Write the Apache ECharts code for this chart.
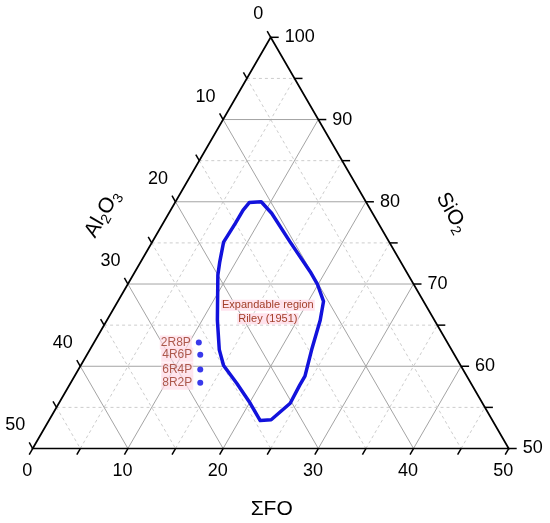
<!DOCTYPE html>
<html>
<head>
<meta charset="utf-8">
<script src="https://cdn.jsdelivr.net/npm/echarts@6/dist/echarts.min.js"></script>
<style>html,body{margin:0;padding:0;background:#fff}#c{width:550px;height:523px}</style>
</head>
<body>
<div id="c"></div>
<script>
// ---- ternary axes (wt%) ----
const foTicks = [0, 5, 10, 15, 20, 25, 30, 35, 40, 45, 50];          // ΣFO (bottom)
const siTicks = [50, 55, 60, 65, 70, 75, 80, 85, 90, 95, 100];       // SiO2 (right)
const alTicks = [0, 5, 10, 15, 20, 25, 30, 35, 40, 45, 50];          // Al2O3 (left)
const foTickLabels = [0, 10, 20, 30, 40, 50];
const siTickLabels = [50, 60, 70, 80, 90, 100];
const alTickLabels = [0, 10, 20, 30, 40, 50];
const gridFO = [5, 10, 15, 20, 25, 30, 35, 40, 45];
const gridSi = [55, 60, 65, 70, 75, 80, 85, 90, 95];
const gridAl = [5, 10, 15, 20, 25, 30, 35, 40, 45];

// ---- expandable region, Riley (1951): SiO2 and ΣFO (Al2O3 = 100 - SiO2 - ΣFO) ----
const regionSiO2 = [79.9, 80.0, 78.6, 75.1, 71.5, 70.0, 67.9, 65.6, 62.0, 58.8, 57.7, 55.5, 53.5, 53.4, 55.5, 57.9, 60.1, 62.0, 65.6, 71.1, 72.7, 75.1, 77.4, 79.0, 79.9];
const regionFO   = [7.8, 9.0, 10.8, 14.5, 18.4, 19.9, 21.6, 22.4, 23.3, 24.2, 24.2, 24.3, 23.3, 22.2, 20.1, 17.5, 15.0, 13.6, 11.6, 8.9, 8.3, 7.5, 7.6, 7.6, 7.8];
const regionLabel = ['Expandable region', 'Riley (1951)'];
const regionLabelSiO2 = 66.6;
const regionLabelFO = 16.4;

// ---- samples ----
const sampleNames = ['2R8P', '4R6P', '6R4P', '8R2P'];
const sampleSiO2 = [62.9, 61.4, 59.6, 58.0];
const sampleFO = [11.0, 11.9, 12.8, 13.6];

// ternary (ΣFO, SiO2) -> cartesian value space
function toXY(fo, si) { return [fo + (si - 50) / 2, si]; }

const FONT = '"Liberation Sans", Arial, Helvetica, sans-serif';
const S3 = Math.sqrt(3) / 2;

const chart = echarts.init(document.getElementById('c'), null, { renderer: 'canvas' });

const gridData = [].concat(
  gridFO.map(v => [v, 0]),
  gridSi.map(v => [v, 1]),
  gridAl.map(v => [v, 2])
);
const tickData = [].concat(
  foTicks.map(v => [v, 0]),
  siTicks.map(v => [v, 1]),
  alTicks.map(v => [v, 2])
);

function pt(api, fo, si) { return api.coord(toXY(fo, si)); }

const option = {
  animation: false,
  backgroundColor: '#fff',
  grid: { left: 32.7, right: 41.3, top: 37.3, bottom: 74.5, outerBoundsMode: 'none', containLabel: false },
  xAxis: { type: 'value', min: 0, max: 50, show: false },
  yAxis: { type: 'value', min: 50, max: 100, show: false },
  series: [
    { // grid lines
      type: 'custom', z: 1, silent: true,
      data: gridData,
      renderItem: function (params, api) {
        const v = api.value(0), fam = api.value(1);
        let a, b;
        if (fam === 0) { a = pt(api, v, 50); b = pt(api, v, 100 - v); }
        else if (fam === 1) { a = pt(api, 0, v); b = pt(api, 100 - v, v); }
        else { a = pt(api, 0, 100 - v); b = pt(api, 50 - v, 50); }
        const major = v % 10 === 0;
        return {
          type: 'line',
          shape: { x1: a[0], y1: a[1], x2: b[0], y2: b[1] },
          style: { stroke: major ? '#a4a4a4' : '#cdcdcd', lineWidth: 1, lineDash: major ? null : [3, 3] }
        };
      }
    },
    { // triangle frame
      type: 'custom', z: 3, silent: true,
      data: [[0, 50]],
      renderItem: function (params, api) {
        const bl = pt(api, 0, 50), br = pt(api, 50, 50), t = pt(api, 0, 100);
        return {
          type: 'polygon',
          shape: { points: [bl, br, t] },
          style: { fill: 'none', stroke: '#000', lineWidth: 1.7, lineJoin: 'miter' }
        };
      }
    },
    { // ticks and tick labels
      type: 'custom', z: 3, silent: true,
      data: tickData,
      renderItem: function (params, api) {
        const v = api.value(0), fam = api.value(1);
        let p, d, len, lbl = null;
        const font = { fontSize: 18, fontFamily: FONT, fill: '#000' };
        if (fam === 0) {
          p = pt(api, v, 50); d = [-0.5, S3]; len = 7;
          if (foTickLabels.indexOf(v) >= 0) lbl = { text: String(v), x: p[0] - 5.4, y: p[1] + 23, align: 'center', verticalAlign: 'middle' };
        } else if (fam === 1) {
          p = pt(api, 100 - v, v); d = [1, 0]; len = 8;
          if (siTickLabels.indexOf(v) >= 0) lbl = { text: String(v), x: p[0] + 14, y: p[1], align: 'left', verticalAlign: 'middle' };
        } else {
          p = pt(api, 0, 100 - v); d = [-0.5, -S3]; len = 7;
          if (alTickLabels.indexOf(v) >= 0) lbl = { text: String(v), x: p[0] - 7.5, y: p[1] - 23, align: 'right', verticalAlign: 'middle' };
        }
        const children = [{
          type: 'line',
          shape: { x1: p[0], y1: p[1], x2: p[0] + d[0] * len, y2: p[1] + d[1] * len },
          style: { stroke: '#000', lineWidth: 1.5 }
        }];
        if (lbl) children.push({ type: 'text', style: Object.assign({}, font, lbl) });
        return { type: 'group', children: children };
      }
    },
    { // axis titles
      type: 'custom', z: 3, silent: true,
      data: [[0, 50], [1, 50], [2, 50]],
      renderItem: function (params, api) {
        const i = api.value(0);
        const rich = {
          n: { fontSize: 21, fontFamily: FONT, fill: '#000', lineHeight: 26 },
          s: { fontSize: 14, fontFamily: FONT, fill: '#000', lineHeight: 12, verticalAlign: 'bottom' }
        };
        let p, txt, rot, off;
        if (i === 0) { p = pt(api, 25, 50); txt = '{n|ΣFO}'; rot = 0; off = [1, 61]; }
        else if (i === 1) { p = pt(api, 25, 75); txt = '{n|SiO}{s|2}'; rot = -Math.PI / 3; off = [62, -30]; }
        else { p = pt(api, 0, 75); txt = '{n|Al}{s|2}{n|O}{s|3}'; rot = Math.PI / 3; off = [-49, -29]; }
        return {
          type: 'text', x: p[0] + off[0], y: p[1] + off[1], rotation: rot,
          style: { text: txt, rich: rich, x: 0, y: 0, align: 'center', verticalAlign: 'middle' }
        };
      }
    },
    { // expandable region outline
      type: 'line', z: 4, silent: true,
      data: regionFO.map((f, i) => toXY(f, regionSiO2[i])),
      symbol: 'none',
      lineStyle: { color: '#1212dc', width: 3.5, join: 'round', cap: 'round' }
    },
    { // region label
      type: 'custom', z: 5, silent: true,
      data: [toXY(regionLabelFO, regionLabelSiO2)],
      renderItem: function (params, api) {
        const p = api.coord([api.value(0), api.value(1)]);
        return {
          type: 'text', x: p[0], y: p[1],
          style: {
            text: regionLabel.map(s => '{a|' + s + '}').join('\n'),
            rich: { a: { fontSize: 11, fontFamily: FONT, fill: '#a3402a', backgroundColor: 'rgba(255,222,234,0.85)', lineHeight: 13.5, padding: [0, 1, 0, 1] } },
            align: 'center', verticalAlign: 'middle'
          }
        };
      }
    },
    { // samples
      type: 'scatter', z: 6, silent: true,
      symbol: 'circle', symbolSize: 6,
      itemStyle: { color: '#0808e6' },
      data: sampleNames.map((n, i) => ({ name: n, value: toXY(sampleFO[i], sampleSiO2[i]) })),
      label: {
        show: true, position: 'left', distance: 4,
        formatter: '{b}', fontSize: 12, fontFamily: FONT, color: '#983624',
        backgroundColor: 'rgba(255,218,230,0.85)', padding: [1, 1, 0, 1], lineHeight: 13
      }
    }
  ]
};
chart.setOption(option);
</script>
</body>
</html>
